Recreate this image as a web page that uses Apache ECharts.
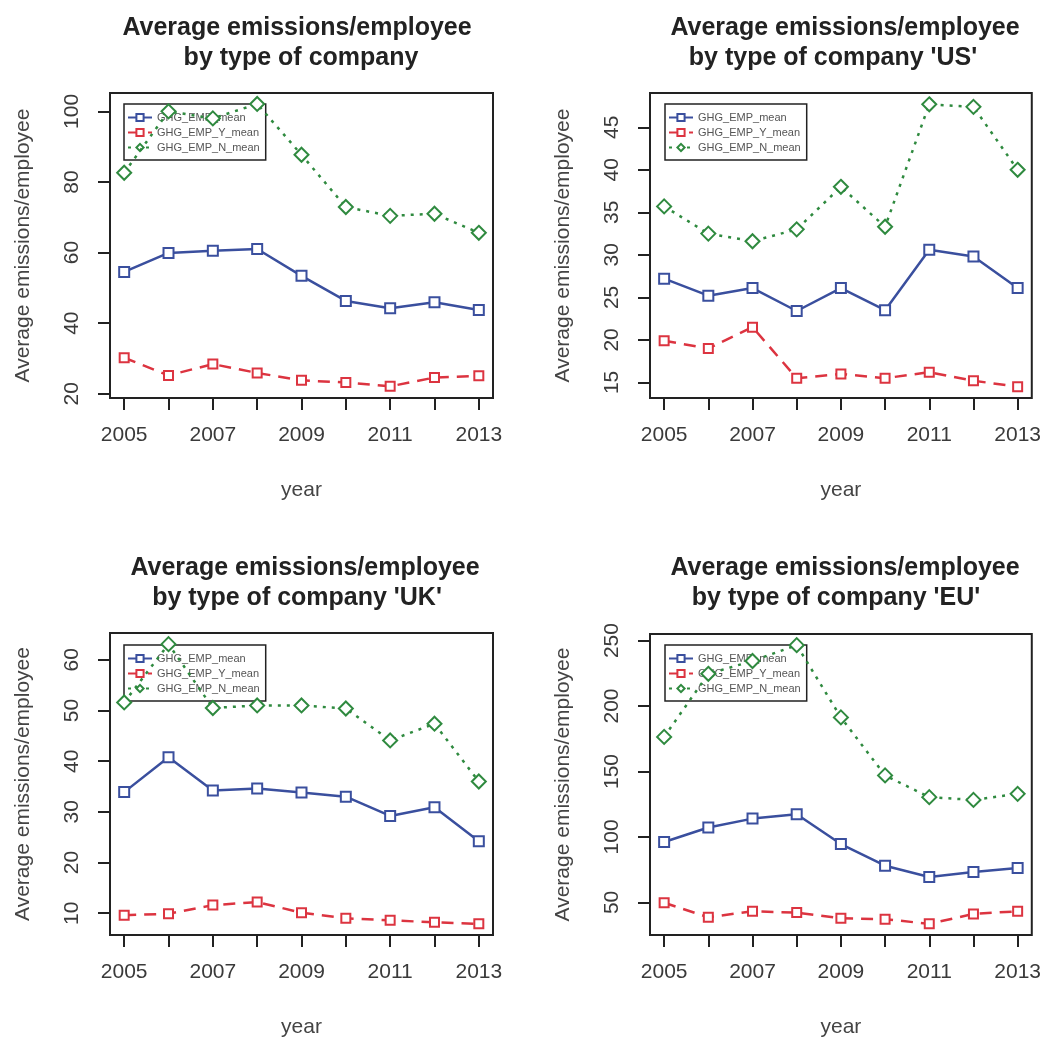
<!DOCTYPE html>
<html>
<head>
<meta charset="utf-8">
<script src="https://cdn.jsdelivr.net/npm/echarts@6/dist/echarts.min.js"></script>
<style>
html, body { margin: 0; padding: 0; background: #fff; }
#main { width: 1044px; height: 1039px; }
</style>
</head>
<body>
<div id="main"></div>
<script>
// years on the x axis, only every other one gets a label
const years = [2005, 2006, 2007, 2008, 2009, 2010, 2011, 2012, 2013];
const yearLabels = [2005, 2007, 2009, 2011, 2013];
const seriesNames = ['GHG_EMP_mean', 'GHG_EMP_Y_mean', 'GHG_EMP_N_mean'];

// all companies
const allMean = [54.5, 59.9, 60.5, 61.0, 53.4, 46.3, 44.2, 45.9, 43.7];
const allY = [30.2, 25.2, 28.4, 25.9, 23.8, 23.2, 22.1, 24.6, 25.1];
const allN = [82.6, 100.0, 98.0, 102.1, 87.7, 72.9, 70.4, 71.0, 65.6];
const allTicks = [20, 40, 60, 80, 100];

// US
const usMean = [27.2, 25.2, 26.1, 23.4, 26.1, 23.5, 30.6, 29.8, 26.1];
const usY = [19.9, 19.0, 21.5, 15.5, 16.0, 15.5, 16.2, 15.2, 14.5];
const usN = [35.7, 32.5, 31.6, 33.0, 38.0, 33.3, 47.7, 47.4, 40.0];
const usTicks = [15, 20, 25, 30, 35, 40, 45];

// UK
const ukMean = [33.9, 40.8, 34.2, 34.6, 33.8, 33.0, 29.2, 30.9, 24.2];
const ukY = [9.6, 9.9, 11.6, 12.2, 10.1, 9.0, 8.6, 8.2, 7.9];
const ukN = [51.6, 63.1, 50.5, 51.0, 51.0, 50.4, 44.1, 47.4, 36.0];
const ukTicks = [10, 20, 30, 40, 50, 60];

// EU
const euMean = [96.1, 107.2, 114.0, 117.3, 94.6, 78.0, 69.4, 73.2, 76.2];
const euY = [49.7, 38.7, 43.2, 42.2, 37.9, 37.2, 33.6, 41.2, 43.2];
const euN = [176.4, 224.6, 234.4, 246.5, 191.3, 147.0, 130.4, 128.3, 132.9];
const euTicks = [50, 100, 150, 200, 250];

const FONT = '"Liberation Sans", Arial, sans-serif';

// layout of the 4 panels (R style: data range + 4% on each side)
const panels = [
  { title: ['Average emissions/employee', 'by type of company'], tx: [297, 301], ty: [28, 58],
    grid: { left: 110, top: 93, width: 383, height: 305 }, ymin: 18.8, ymax: 105.2,
    ticks: allTicks, data: [allMean, allY, allN], legend: { left: 124, top: 104 } },
  { title: ['Average emissions/employee', "by type of company 'US'"], tx: [845, 833], ty: [28, 58],
    grid: { left: 650, top: 93, width: 382, height: 305 }, ymin: 13.17, ymax: 49.03,
    ticks: usTicks, data: [usMean, usY, usN], legend: { left: 665, top: 104 } },
  { title: ['Average emissions/employee', "by type of company 'UK'"], tx: [305, 297], ty: [568, 598],
    grid: { left: 110, top: 633, width: 383, height: 305 }, ymin: 5.7, ymax: 65.3,
    ticks: ukTicks, data: [ukMean, ukY, ukN], legend: { left: 124, top: 645 } },
  { title: ['Average emissions/employee', "by type of company 'EU'"], tx: [845, 836], ty: [568, 598],
    grid: { left: 650, top: 634, width: 382, height: 304 }, ymin: 25.1, ymax: 255.0,
    ticks: euTicks, data: [euMean, euY, euN], legend: { left: 665, top: 645 } }
];

const styles = [
  { color: '#3a4f9e', type: 'solid', symbol: 'emptyRect', size: 10 },
  { color: '#dc3440', type: [12, 8], symbol: 'emptyRect', size: 9 },
  { color: '#2f8a3f', type: [3, 6], symbol: 'emptyDiamond', size: 14 }
];

var chartDom = document.getElementById('main');
var myChart = echarts.init(chartDom, null, { renderer: 'canvas' });

var grids = [], xAxes = [], yAxes = [], series = [], legends = [], graphics = [];

panels.forEach(function (p, i) {
  grids.push(Object.assign({ show: true, borderColor: '#222', borderWidth: 2, backgroundColor: 'transparent' }, p.grid));

  xAxes.push({
    type: 'value', gridIndex: i, min: 2004.68, max: 2013.32,
    name: 'year', nameLocation: 'middle', nameGap: 82,
    nameTextStyle: { fontFamily: FONT, fontSize: 21, color: '#444' },
    axisLine: { show: false },
    axisTick: { show: true, length: 12, customValues: years, lineStyle: { color: '#222', width: 2 } },
    axisLabel: { customValues: yearLabels, margin: 27, fontFamily: FONT, fontSize: 21, color: '#3a3a3a',
      formatter: function (v) { return String(v); } },
    splitLine: { show: false }
  });

  yAxes.push({
    type: 'value', gridIndex: i, min: p.ymin, max: p.ymax,
    name: 'Average emissions/employee', nameLocation: 'middle', nameGap: 76,
    nameTextStyle: { fontFamily: FONT, fontSize: 21, color: '#444' },
    axisLine: { show: false },
    axisTick: { show: true, length: 12, customValues: p.ticks, lineStyle: { color: '#222', width: 2 } },
    axisLabel: { customValues: p.ticks, rotate: 90, margin: 27, fontFamily: FONT, fontSize: 21, color: '#3a3a3a' },
    splitLine: { show: false }
  });

  p.data.forEach(function (vals, k) {
    var s = styles[k];
    series.push({
      name: seriesNames[k], type: 'line', xAxisIndex: i, yAxisIndex: i,
      data: years.map(function (y, j) { return [y, vals[j]]; }),
      symbol: s.symbol, symbolSize: s.size, showAllSymbol: true,
      lineStyle: { color: s.color, width: 2.5, type: s.type },
      itemStyle: { color: s.color, borderColor: s.color, borderWidth: 2 },
      z: 3, silent: true, animation: false
    });
  });

  legends.push({
    data: seriesNames, orient: 'vertical', left: p.legend.left, top: p.legend.top,
    itemWidth: 24, itemHeight: 9, itemGap: 4, padding: [8, 6, 7, 3],
    borderColor: '#222', borderWidth: 1.5, borderRadius: 0, backgroundColor: 'transparent',
    textStyle: { fontFamily: FONT, fontSize: 11, color: '#555' },
    selectedMode: false, z: 1
  });

  // two-line bold title, each line centred by hand
  p.title.forEach(function (t, k) {
    graphics.push({
      type: 'text', x: p.tx[k], y: p.ty[k],
      style: { text: t, font: 'bold 25px ' + FONT, fill: '#222',
        align: 'center', verticalAlign: 'middle', textAlign: 'center', textVerticalAlign: 'middle' }
    });
  });
});

var option = {
  backgroundColor: '#fff',
  animation: false,
  grid: grids,
  xAxis: xAxes,
  yAxis: yAxes,
  legend: legends,
  series: series,
  graphic: graphics
};

option && myChart.setOption(option);
</script>
</body>
</html>
